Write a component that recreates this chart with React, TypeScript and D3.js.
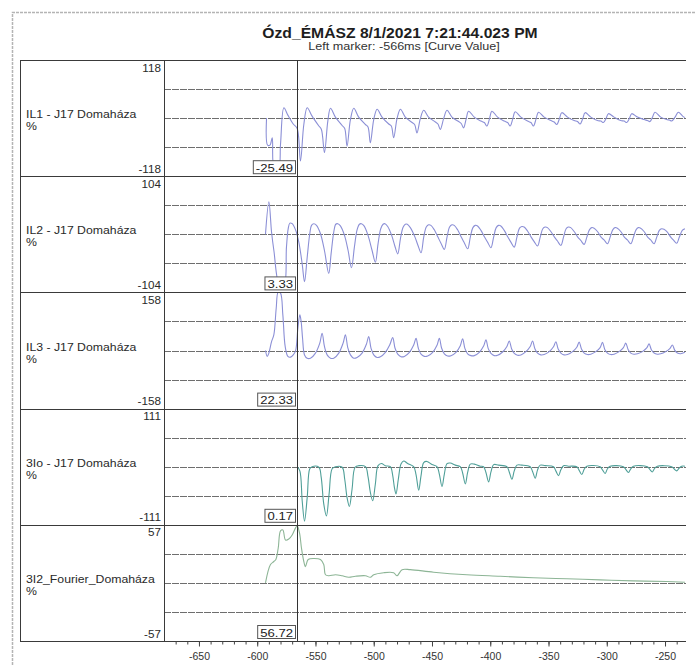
import React, { useEffect, useRef } from 'react';
import * as d3 from 'd3';

// ---- data ----
const chartTitle = 'Ózd_ÉMÁSZ 8/1/2021 7:21:44.023 PM';
const chartSubtitle = 'Left marker: -566ms [Curve Value]';
const markerTime = -566;
const timeDomain: [number, number] = [-680, -232];
const majorTicks = [-650, -600, -550, -500, -450, -400, -350, -300, -250];
const minorTicks = d3.range(-670, -231, 10);

const channelNames = ['IL1 - J17 Domaháza', 'IL2 - J17 Domaháza', 'IL3 - J17 Domaháza', '3Io - J17 Domaháza', '3I2_Fourier_Domaháza'];
const channelUnits = ['%', '%', '%', '%', '%'];
const channelMax = [118, 104, 158, 111, 57];
const cursorValues = ['-25.49', '3.33', '22.33', '0.17', '56.72'];

type Pt = [number, number];

const il1: Pt[] = [
  [-592.0, 0], [-591.1, -55], [-589.1, -55], [-587.1, -40], [-585.4, -101], [-581.7, -101], [-580.0, -53], [-577.1, 21],
  [-573.7, 6], [-569.1, -12], [-565.7, -21], [-562.9, -87], [-560.0, -13], [-557.1, 21],
  [-552.9, 4], [-547.1, -16], [-544.9, -23], [-542.3, -70], [-539.4, -6], [-537.1, 20],
  [-532.9, 2], [-527.1, -15], [-524.9, -21], [-522.9, -57], [-520.0, -3], [-517.1, 20],
  [-512.9, 2], [-507.1, -13], [-504.9, -18], [-502.9, -50], [-500.0, -3], [-497.1, 18],
  [-492.9, 2], [-487.1, -12], [-484.9, -16], [-482.9, -40], [-480.0, -1], [-477.1, 18],
  [-472.9, 2], [-467.1, -9], [-464.9, -13], [-462.9, -30], [-460.0, -1], [-457.1, 16],
  [-452.9, 2], [-447.1, -8], [-444.9, -12], [-442.9, -23], [-440.0, -1], [-437.1, 16],
  [-432.9, 2], [-427.1, -7], [-424.9, -11], [-422.9, -20], [-420.6, -1], [-418.6, 14],
  [-413.7, 2], [-408.0, -6], [-405.1, -9], [-402.9, -16], [-400.6, -1], [-398.6, 14],
  [-393.7, 2], [-388.0, -6], [-385.1, -9], [-382.9, -16], [-380.6, -1], [-378.6, 13],
  [-373.7, 2], [-368.0, -6], [-365.1, -9], [-362.9, -16], [-360.6, -1], [-358.6, 12],
  [-353.7, 2], [-348.0, -5], [-345.1, -8], [-342.9, -13], [-340.6, -1], [-338.6, 11],
  [-333.7, 2], [-328.0, -5], [-325.1, -7], [-322.9, -12], [-320.6, -1], [-318.6, 11],
  [-313.7, 2], [-308.0, -5], [-305.1, -6], [-302.9, -9], [-300.6, -1], [-298.6, 9],
  [-293.7, 2], [-288.0, -5], [-285.1, -6], [-282.9, -9], [-280.6, -1], [-278.6, 9],
  [-273.7, 2], [-268.0, -3], [-265.1, -5], [-262.9, -7], [-260.9, 1], [-258.6, 12],
  [-253.7, 2], [-248.6, -3], [-246.3, -4], [-244.3, -6], [-241.4, 2], [-238.6, 12],
  [-234.9, 4], [-232.9, 1],
];

const il2: Pt[] = [
  [-592.9, 0], [-590.0, 58], [-587.7, 4], [-585.7, -29], [-580.6, -94], [-577.1, -94], [-574.9, -23], [-573.4, 10],
  [-572.0, 20], [-570.0, 19], [-567.1, 8], [-564.3, -14], [-561.4, -53], [-559.4, -85],
  [-557.1, -41], [-554.9, 1], [-553.4, 16], [-551.4, 19], [-549.1, 16], [-545.7, 1], [-542.3, -29], [-538.6, -70],
  [-536.6, -35], [-534.3, 4], [-532.6, 18], [-530.9, 19], [-528.6, 15], [-525.1, -2], [-522.0, -29], [-519.1, -60],
  [-516.6, -23], [-514.3, 8], [-512.3, 18], [-510.6, 19], [-508.3, 15], [-504.9, -2], [-501.4, -29], [-498.6, -50],
  [-496.3, -17], [-494.0, 10], [-492.0, 18], [-490.3, 19], [-488.0, 14], [-484.6, -2], [-482.0, -20], [-479.4, -35],
  [-477.1, -8], [-474.9, 12], [-472.9, 18], [-471.2, 18], [-468.6, 12], [-464.6, -5], [-462.0, -20], [-459.4, -33],
  [-457.1, -5], [-454.9, 13], [-452.9, 17], [-450.9, 16], [-448.0, 8], [-444.9, -5], [-442.3, -16], [-439.4, -27],
  [-437.1, -5], [-434.9, 13], [-432.9, 17], [-430.9, 16], [-428.0, 8], [-424.9, -5], [-422.3, -15], [-419.4, -26],
  [-417.1, -5], [-414.9, 12], [-412.9, 16], [-410.9, 15], [-408.0, 7], [-404.9, -5], [-402.3, -14], [-399.4, -24],
  [-397.1, -5], [-394.9, 12], [-392.9, 16], [-390.9, 15], [-388.0, 7], [-384.9, -5], [-382.3, -14], [-379.4, -23],
  [-377.1, -5], [-374.9, 11], [-372.9, 14], [-370.9, 13], [-368.0, 6], [-364.9, -5], [-362.3, -13], [-359.4, -21],
  [-357.1, -5], [-354.9, 10], [-352.9, 13], [-350.9, 12], [-348.0, 5], [-344.9, -5], [-342.3, -12], [-339.4, -20],
  [-337.1, -5], [-334.9, 10], [-332.9, 13], [-330.9, 12], [-328.0, 5], [-324.9, -5], [-322.3, -11], [-319.4, -18],
  [-317.1, -5], [-314.9, 8], [-312.9, 12], [-310.9, 11], [-308.0, 5], [-304.9, -5], [-302.3, -10], [-299.4, -17],
  [-297.1, -5], [-294.9, 8], [-292.9, 12], [-290.9, 11], [-288.0, 5], [-284.9, -5], [-282.3, -10], [-279.4, -17],
  [-277.1, -5], [-274.9, 8], [-272.9, 12], [-270.9, 11], [-268.0, 5], [-264.9, -5], [-262.3, -10], [-259.4, -17],
  [-257.1, -5], [-254.9, 7], [-252.9, 10], [-250.9, 9], [-248.0, 4], [-245.1, -5], [-242.9, -10], [-240.0, -16],
  [-237.7, -5], [-235.2, 7], [-232.9, 10],
];

const il3: Pt[] = [
  [-592.9, 0], [-591.4, -16], [-590.0, -7], [-587.7, 24], [-585.7, 43], [-583.7, 115], [-582.0, 159], [-580.0, 156],
  [-578.0, 97], [-576.0, 11], [-573.7, -16], [-571.4, -18], [-569.1, -12], [-567.1, -1], [-565.1, 61], [-563.4, 97],
  [-562.3, 79], [-561.1, 34], [-559.4, -12], [-557.1, -21], [-554.3, -21], [-550.0, -7], [-546.3, 20], [-544.3, 47],
  [-542.3, 11], [-540.0, -12], [-537.1, -21], [-534.3, -21], [-530.0, -7], [-526.3, 20], [-524.3, 43],
  [-522.3, 8], [-520.0, -12], [-517.1, -21], [-514.3, -19], [-510.0, -7], [-506.3, 17], [-504.3, 38],
  [-502.3, 6], [-500.0, -12], [-497.1, -19], [-494.3, -17], [-490.0, -5], [-486.3, 15], [-483.7, 35],
  [-481.7, 6], [-479.4, -10], [-476.6, -17], [-473.7, -16], [-469.4, -5], [-465.7, 15], [-463.7, 33],
  [-461.7, 6], [-459.4, -10], [-456.6, -16], [-453.7, -15], [-449.4, -5], [-445.7, 14], [-443.7, 33],
  [-441.7, 6], [-439.4, -9], [-436.6, -15], [-433.7, -14], [-429.4, -5], [-425.7, 13], [-423.7, 32],
  [-421.7, 5], [-419.4, -9], [-416.6, -14], [-413.7, -14], [-409.4, -5], [-405.7, 12], [-403.7, 29],
  [-401.7, 5], [-399.4, -8], [-396.6, -14], [-393.7, -13], [-389.4, -4], [-385.7, 11], [-383.7, 26],
  [-381.7, 5], [-379.4, -8], [-376.6, -13], [-373.7, -12], [-369.4, -3], [-365.7, 11], [-363.7, 26],
  [-361.7, 5], [-359.4, -7], [-356.6, -12], [-353.7, -11], [-349.4, -3], [-345.7, 10], [-343.7, 24],
  [-341.7, 4], [-339.4, -7], [-336.6, -12], [-333.7, -11], [-329.4, -3], [-325.7, 9], [-323.7, 23],
  [-321.7, 4], [-319.4, -7], [-316.6, -11], [-313.7, -10], [-309.4, -3], [-305.7, 8], [-303.7, 22],
  [-301.7, 3], [-299.4, -7], [-296.6, -11], [-293.7, -10], [-289.4, -3], [-285.7, 8], [-283.7, 20],
  [-281.7, 3], [-279.4, -7], [-276.6, -10], [-273.7, -9], [-269.4, -3], [-265.7, 7], [-263.7, 18],
  [-261.7, 2], [-259.4, -7], [-256.6, -10], [-253.7, -9], [-249.4, -3], [-245.7, 6], [-243.7, 15],
  [-241.7, 1], [-239.4, -7], [-236.6, -9], [-232.9, -5],
];

const io3: Pt[] = [
  [-565.7, 0], [-563.4, -8], [-561.4, -65], [-559.4, -104], [-557.1, -59], [-554.9, -4], [-552.9, 0],
  [-547.1, -1], [-545.1, -20], [-542.9, -71], [-540.6, -94], [-538.3, -52], [-535.7, -4], [-532.9, 0],
  [-527.1, -1], [-524.9, -24], [-522.9, -59], [-520.9, -76], [-518.6, -43], [-516.0, -1], [-512.9, 2],
  [-507.1, 0], [-504.9, -19], [-502.9, -49], [-500.9, -65], [-498.6, -33], [-496.3, 2], [-493.4, 6], [-490.0, 2],
  [-485.7, 0], [-483.7, -17], [-482.3, -39], [-480.9, -52], [-478.9, -24], [-476.6, 5], [-474.3, 11], [-470.9, 6],
  [-465.7, 0], [-463.7, -15], [-461.4, -45], [-459.4, -17], [-457.1, 8], [-454.3, 10], [-450.0, 4],
  [-445.7, 0], [-443.7, -14], [-441.4, -38], [-439.4, -14], [-437.1, 6], [-434.3, 7], [-430.0, 3],
  [-425.7, 0], [-423.7, -12], [-421.4, -33], [-419.4, -11], [-417.1, 5], [-413.7, 5], [-408.6, 1],
  [-405.7, 0], [-403.7, -11], [-401.4, -29], [-399.4, -10], [-397.1, 4], [-392.9, 3],
  [-385.7, 0], [-383.7, -10], [-381.4, -24], [-379.4, -8], [-377.1, 3], [-372.9, 3],
  [-365.7, 0], [-363.7, -9], [-361.4, -22], [-359.4, -6], [-357.1, 3], [-352.9, 2],
  [-345.7, 0], [-343.7, -8], [-341.4, -17], [-339.4, -6], [-337.1, 2], [-332.9, 1],
  [-325.7, 0], [-323.7, -7], [-321.4, -15], [-319.4, -5], [-317.1, 1],
  [-305.7, 0], [-303.7, -6], [-301.4, -13], [-299.4, -4], [-297.1, 1],
  [-285.7, 0], [-283.7, -5], [-281.4, -11], [-279.4, -4], [-277.1, 1],
  [-265.1, 0], [-263.1, -5], [-260.9, -10], [-258.9, -3], [-256.6, 1],
  [-244.3, 0], [-242.3, -4], [-240.0, -8], [-238.0, -3], [-235.7, 1], [-232.9, 1],
];

const i2Fourier: Pt[] = [
  [-592.9, 0], [-588.6, 18], [-585.7, 21], [-584.0, 23], [-582.0, 34], [-580.0, 51], [-578.0, 52], [-575.7, 42],
  [-572.9, 43], [-570.0, 47], [-567.1, 54], [-565.7, 56], [-563.7, 49], [-562.0, 34], [-560.0, 21], [-558.6, 16],
  [-556.3, 23], [-551.5, 24], [-545.7, 23], [-542.9, 18], [-541.4, 8], [-538.6, 7], [-532.9, 8], [-527.1, 7],
  [-521.5, 5.5], [-515.7, 6.5], [-507.1, 7], [-502.9, 5.5], [-500.0, 8], [-491.5, 10], [-482.9, 10], [-480.0, 7],
  [-475.7, 13], [-468.6, 13], [-448.6, 10.5], [-420.0, 8], [-391.4, 6.5], [-362.9, 5], [-334.3, 4], [-305.7, 3],
  [-277.1, 2], [-248.6, 1.3], [-232.9, 0.7],
];

const channelData = [il1, il2, il3, io3, i2Fourier];

// ---- styling / layout ----
const traceColors = ['#8b8fd6', '#8b8fd6', '#8b8fd6', '#4f9f98', '#8db596'];
const W = 696, H = 665;
const boxLeft = 20, plotLeft = 164, plotRight = 686, plotTop = 60, plotBottom = 641;
const font = '"Liberation Sans", Arial, Helvetica, sans-serif';
// the scanned printout is a bit wider than its glyph height suggests
const stretch = 1.17;

type Sel = d3.Selection<any, any, any, any>;

function addText(parent: Sel, x: number, y: number, str: string, size: number, anchor = 'start', sx = stretch) {
  return parent.append('text')
    .attr('transform', `translate(${x},${y}) scale(${sx},1)`)
    .attr('text-anchor', anchor)
    .attr('font-size', size)
    .attr('fill', '#2a2a2a')
    .text(str);
}

const Waveforms = () => {
  const ref = useRef<SVGSVGElement>(null);

  useEffect(() => {
    const svg = d3.select(ref.current);
    svg.selectAll('*').remove();
    svg.attr('width', W).attr('height', H).style('font-family', font);

    svg.append('rect').attr('width', W).attr('height', H).attr('fill', '#fff');

    // scanned page frame
    svg.append('path')
      .attr('d', `M12.5,${H} V12.5 H${W}`)
      .attr('fill', 'none').attr('stroke', '#b4b4b4').attr('stroke-width', 1.5)
      .attr('stroke-dasharray', '3,1');

    addText(svg, 400, 37.5, chartTitle, 14, 'middle', 1.12).attr('font-weight', 'bold').attr('fill', '#1e1e1e');
    addText(svg, 404, 49.5, chartSubtitle, 10.5, 'middle', 1.2).attr('fill', '#333');

    const x = d3.scaleLinear().domain(timeDomain).range([plotLeft, plotRight]);
    const n = channelData.length;
    const ph = (plotBottom - plotTop) / n;

    const defs = svg.append('defs');

    channelData.forEach((data, i) => {
      const top = plotTop + i * ph;
      const bottom = top + ph;
      const max = channelMax[i];
      const y = d3.scaleLinear().domain([-max, max]).range([bottom, top]);
      const g = svg.append('g');

      defs.append('clipPath').attr('id', `clip${i}`)
        .append('rect').attr('x', plotLeft).attr('y', top).attr('width', plotRight - plotLeft).attr('height', ph);

      // reference lines at -50%, 0, +50%
      g.selectAll('line.grid')
        .data([max / 2, 0, -max / 2])
        .enter()
        .append('line')
        .attr('x1', plotLeft).attr('x2', plotRight)
        .attr('y1', d => Math.round(y(d)) + 0.5).attr('y2', d => Math.round(y(d)) + 0.5)
        .attr('stroke', '#6e6e6e').attr('stroke-width', 1)
        .attr('stroke-dasharray', '7,1');

      const line = d3.line<Pt>().x(d => x(d[0])).y(d => y(d[1])).curve(d3.curveCatmullRom.alpha(0.5));
      g.append('path')
        .datum(data)
        .attr('clip-path', `url(#clip${i})`)
        .attr('d', line)
        .attr('fill', 'none')
        .attr('stroke', traceColors[i])
        .attr('stroke-width', 1.1)
        .attr('stroke-linejoin', 'round');

      // left label column
      addText(g, 161, top + 11.5, String(max), 10, 'end');
      addText(g, 161, bottom - 3.5, String(-max), 10, 'end');
      addText(g, 26, top + ph / 2, channelNames[i], 10.5);
      addText(g, 26, top + ph / 2 + 12, channelUnits[i], 10.5);
    });

    // frame lines
    const frame = svg.append('g').attr('stroke', '#3a3a3a').attr('stroke-width', 1);
    d3.range(n + 1).forEach(i => {
      const yy = Math.round(plotTop + i * ph) + 0.5;
      frame.append('line').attr('x1', boxLeft).attr('x2', plotRight).attr('y1', yy).attr('y2', yy);
    });
    frame.append('line').attr('x1', boxLeft + 0.5).attr('x2', boxLeft + 0.5).attr('y1', plotTop).attr('y2', plotBottom);
    frame.append('line').attr('x1', plotLeft + 0.5).attr('x2', plotLeft + 0.5).attr('y1', plotTop).attr('y2', plotBottom);

    // left marker
    const mx = Math.round(x(markerTime)) + 0.5;
    svg.append('line').attr('x1', mx).attr('x2', mx).attr('y1', plotTop).attr('y2', plotBottom)
      .attr('stroke', '#333').attr('stroke-width', 1);

    // marker value boxes
    const boxStretch = 1.25;
    channelData.forEach((_, i) => {
      const bottom = plotTop + (i + 1) * ph;
      const bg = svg.append('g');
      const rect = bg.append('rect');
      const txt = addText(bg, mx - 4.5, bottom - 4.5, cursorValues[i], 10.5, 'end', boxStretch).attr('fill', '#222');
      const tw = (txt.node() as SVGTextElement).getComputedTextLength() * boxStretch;
      rect.attr('x', mx - 2 - tw - 5).attr('y', bottom - 15.5)
        .attr('width', tw + 5).attr('height', 13)
        .attr('fill', '#fff').attr('stroke', '#555').attr('stroke-width', 1);
    });

    // time axis
    svg.append('g')
      .attr('transform', `translate(0,${Math.round(plotBottom) + 0.5})`)
      .call(d3.axisBottom(x).tickValues(minorTicks).tickSize(3).tickFormat(() => ''))
      .call(a => a.select('.domain').remove())
      .selectAll('line').attr('stroke', '#444');

    const axis = svg.append('g')
      .attr('transform', `translate(0,${Math.round(plotBottom) + 0.5})`)
      .call(d3.axisBottom(x).tickValues(majorTicks).tickSize(5).tickPadding(6).tickFormat(d => String(d)));
    axis.select('.domain').remove();
    axis.selectAll('line').attr('stroke', '#444');
    axis.selectAll('text').attr('font-size', 10.5).attr('font-family', font).attr('fill', '#333');
  }, []);

  return <svg ref={ref} style={{ position: 'absolute', left: 0, top: 0, display: 'block' }}></svg>;
};

export default function App() {
  return <Waveforms />;
}
